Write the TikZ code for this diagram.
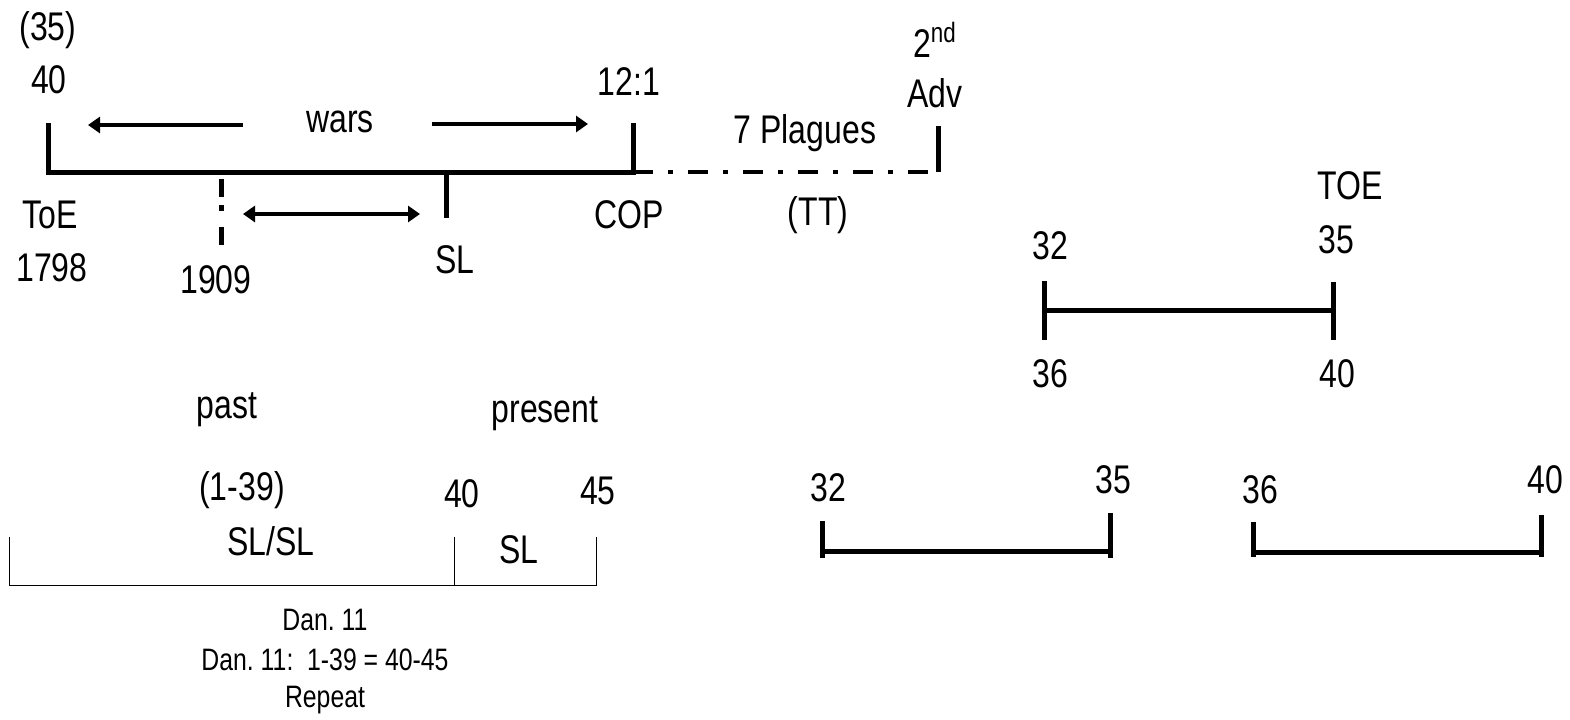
\documentclass[tikz,border=0pt]{standalone}
\usepackage{fontspec}
\setmainfont{Liberation Sans}[FakeStretch=0.8]
\usetikzlibrary{arrows.meta}
\frenchspacing

\begin{document}
\begin{tikzpicture}[x=0.5pt,y=-0.5pt,>={Triangle[length=6pt,width=8pt]},
                    lbl/.style={inner sep=0pt,font=\fontsize{20}{23}\selectfont},
                    small/.style={inner sep=0pt,font=\fontsize{15.5}{18}\selectfont},
                    bar/.style={line width=2.5pt,line join=miter},
                    dashdot/.style={line width=2.2pt,dash pattern=on 10pt off 7.5pt on 2.5pt off 7.5pt},
                    arr/.style={line width=2pt}]
  \useasboundingbox (0,0) rectangle (1570,719);

  % upper time line
  \node[lbl] (n35)    at (48,30)   {(35)};
  \node[lbl] (n40)    at (49,80)   {40};
  \node[lbl] (wars)   at (340,122) {wars};
  \node[lbl] (n121)   at (629,82)  {12:1};
  \node[lbl] (second) at (935,40)  {2\textsuperscript{nd}};
  \node[lbl] (adv)    at (935,93)  {Adv};
  \node[lbl] (plag)   at (805,133) {7 Plagues};
  \node[lbl] (toe)    at (50,215)  {ToE};
  \node[lbl] (y1798)  at (52,268)  {1798};
  \node[lbl] (y1909)  at (216,280) {1909};
  \node[lbl] (sl)     at (455,260) {SL};
  \node[lbl] (cop)    at (629,215) {COP};
  \node[lbl] (tt)     at (818,215) {(TT)};

  \coordinate (a) at (48,123);  \coordinate (ab) at (48,172);
  \coordinate (c) at (633,123); \coordinate (cb) at (633,172);
  \coordinate (d) at (938,126); \coordinate (db) at (938,172);
  \coordinate (s) at (446,172); \coordinate (sb) at (446,218);
  \coordinate (t) at (221,179); \coordinate (tb) at (221,245);

  \draw[bar] (a) -- (ab) -- (cb) -- (c);
  \draw[dashdot] (cb) -- (db);
  \draw[bar] (db) -- (d);
  \draw[bar] (s) -- (sb);
  \draw[line width=2.5pt,dash pattern=on 9pt off 4pt on 3pt off 8pt] (t) -- (tb);

  \coordinate (wl0) at (243,125); \coordinate (wl1) at (88,125);
  \coordinate (wr0) at (432,124); \coordinate (wr1) at (588,124);
  \coordinate (b0)  at (243,214); \coordinate (b1)  at (420,214);
  \draw[arr,->]  (wl0) -- (wl1);
  \draw[arr,->]  (wr0) -- (wr1);
  \draw[arr,<->] (b0) -- (b1);

  % 32-35 over 36-40
  \node[lbl] (toe2) at (1350,186) {TOE};
  \node[lbl] (r35)  at (1336,240) {35};
  \node[lbl] (r32)  at (1050,246) {32};
  \node[lbl] (r36)  at (1050,374) {36};
  \node[lbl] (r40)  at (1337,374) {40};
  \draw[bar] (1044,281) coordinate (p) -- (1044,340) coordinate (pb);
  \draw[bar] (1333,282) coordinate (q) -- (1333,340) coordinate (qb);
  \coordinate (pm) at (1044,310); \coordinate (qm) at (1333,310);
  \draw[bar] (pm) -- (qm);

  % Dan. 11
  \node[lbl] (past)  at (227,410) {past};
  \node[lbl] (pres)  at (545,414) {present};
  \node[lbl] (r139)  at (242,490) {(1-39)};
  \node[lbl] (slsl)  at (271,541) {SL/SL};
  \node[lbl] (d40)   at (462,494) {40};
  \node[lbl] (d45)   at (598,491) {45};
  \node[lbl] (sl2)   at (519,550) {SL};
  \node[small] (dan)   at (325,620) {Dan.~11};
  \node[small] (dan2)  at (325,660) {Dan.~11:~~1-39 = 40-45};
  \node[small] (rep)   at (325,700) {Repeat};

  \coordinate (e) at (9,537);   \coordinate (eb) at (9,585);
  \coordinate (f) at (454,537); \coordinate (fb) at (454,585);
  \coordinate (g) at (596,537); \coordinate (gb) at (596,585);
  \draw[line width=0.5pt] (e) -- (eb) -- (gb) -- (g);
  \draw[line width=0.5pt] (f) -- (fb);

  % two short spans
  \node[lbl] (s32) at (828,488)  {32};
  \node[lbl] (s35) at (1113,480) {35};
  \node[lbl] (s36) at (1260,490) {36};
  \node[lbl] (s40) at (1545,480) {40};
  \draw[bar] (822,521) -- (822,558);
  \draw[bar] (822,551) -- (1110,551);
  \draw[bar] (1110,513) -- (1110,558);
  \draw[bar] (1253,522) -- (1253,557);
  \draw[bar] (1253,552) -- (1541,552);
  \draw[bar] (1541,515) -- (1541,557);
\end{tikzpicture}
\end{document}
